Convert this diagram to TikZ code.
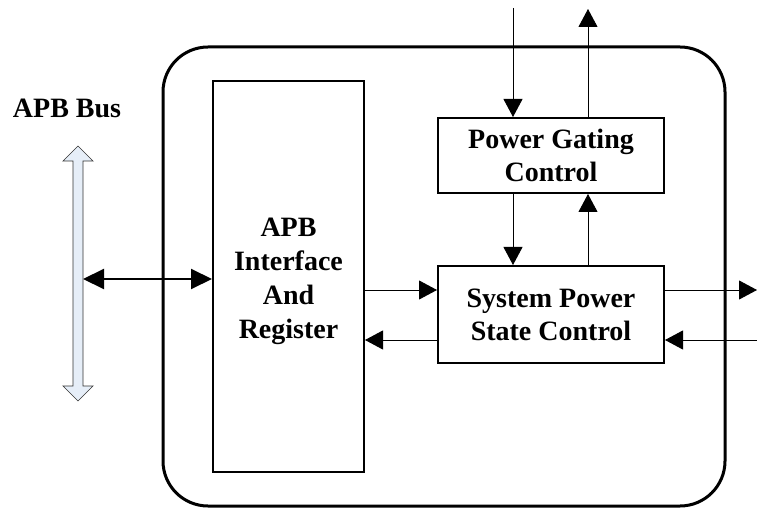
\documentclass[tikz,border=0pt]{standalone}
\usepackage{fontspec}
\setmainfont{Liberation Serif}
\usetikzlibrary{arrows.meta}
\definecolor{busfill}{HTML}{E6EEF8}
\tikzset{
  blkfont/.style={font=\fontsize{28}{33}\selectfont\bfseries},
  blk/.style={draw, line width=2pt, inner sep=0pt, align=center, blkfont},
  thin/.style={line width=0.9pt, -{Triangle[length=18pt,width=19pt]}},
  bidir/.style={line width=2pt, {Triangle[length=21pt,width=20pt]}-{Triangle[length=21pt,width=20pt]}},
}
\begin{document}
\begin{tikzpicture}[x=1pt,y=-1pt]
\useasboundingbox (0,0) rectangle (757,510);
% outer frame
\draw[line width=3pt, rounded corners=45pt] (163,47) rectangle (725,506);
% blocks
\node[blk, minimum width=151pt, minimum height=391pt,
  label={[blkfont, align=center, yshift=-5pt, font=\fontsize{28}{34}\selectfont\bfseries]center:APB\\Interface\\And\\Register}] (apb) at (288.5,276.5) {};
\node[blk, minimum width=226pt, minimum height=75pt] (pgc) at (551,155.5)
  {Power Gating\\Control};
\node[blk, minimum width=226pt, minimum height=97pt] (spsc) at (551,314.5)
  {System Power\\State Control};
% APB bus label and hollow double arrow
\node[blkfont] (buslbl) at (67,108) {APB Bus};
\draw[line width=0.7pt, fill=busfill, draw=black!80]
  (78,146) -- (93,161) -- (83,161) -- (83,386) -- (93,386) -- (78,401)
  -- (63,386) -- (73,386) -- (73,161) -- (63,161) -- cycle;
\coordinate (busR) at (83,279);
\draw[bidir] (busR) -- (apb.west |- busR);
% top connections
\coordinate (inA) at (513,8);
\coordinate (outA) at (588,9);
\draw[thin] (inA) -- (inA |- pgc.north);
\draw[thin] (pgc.north -| outA) -- (outA);
\draw[thin] (pgc.south -| inA) -- (spsc.north -| inA);
\draw[thin] (spsc.north -| outA) -- (pgc.south -| outA);
% horizontal connections
\coordinate (r1) at (0,290);
\coordinate (r2) at (0,340);
\draw[thin] (apb.east |- r1) -- (spsc.west |- r1);
\draw[thin] (spsc.west |- r2) -- (apb.east |- r2);
\coordinate (rOut) at (757,290);
\coordinate (rIn) at (757,340);
\draw[thin] (spsc.east |- rOut) -- (rOut);
\draw[thin] (rIn) -- (spsc.east |- rIn);
\end{tikzpicture}
\end{document}
